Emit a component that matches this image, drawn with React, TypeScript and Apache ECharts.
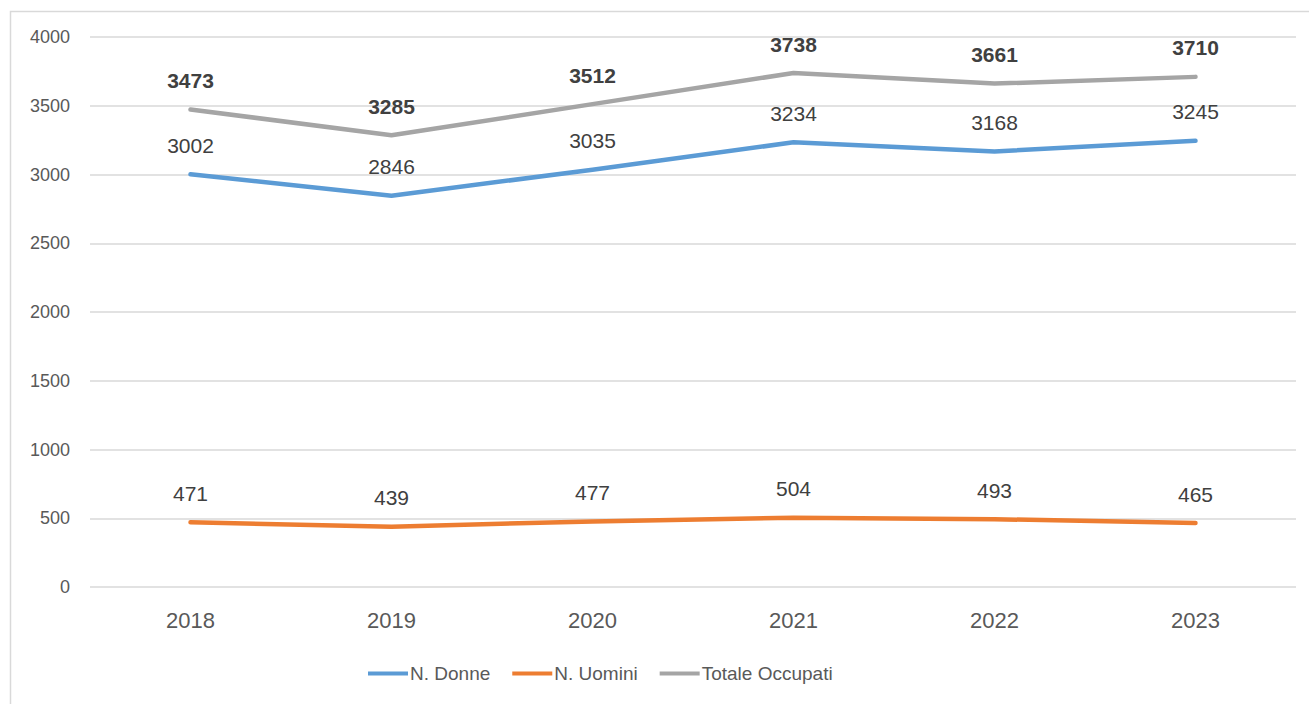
import React, { useEffect, useRef } from "react";
import * as echarts from "echarts";

const categories = ["2018", "2019", "2020", "2021", "2022", "2023"];
const donne = [3002, 2846, 3035, 3234, 3168, 3245];
const uomini = [471, 439, 477, 504, 493, 465];
const totale = [3473, 3285, 3512, 3738, 3661, 3710];
const yTicks = { min: 0, max: 4000, interval: 500 };
const seriesNames = ["N. Donne", "N. Uomini", "Totale Occupati"];
const seriesColors = ["#5B9BD5", "#ED7D31", "#A5A5A5"];

const FONT = "Liberation Sans";

export default function App() {
  const ref = useRef<HTMLDivElement>(null);
  useEffect(() => {
    if (!ref.current) return;
    const chart = echarts.init(ref.current, undefined, { renderer: "svg" });
    const mkSeries = (name: string, data: number[], color: string, bold: boolean) => ({
      name,
      type: "line",
      data,
      showSymbol: true,
      symbol: "circle",
      symbolSize: 1,
      lineStyle: { color, width: 4.5, cap: "round", join: "round" },
      itemStyle: { color, opacity: 0 },
      label: {
        show: true,
        position: "top",
        distance: 18,
        fontFamily: FONT,
        fontSize: 21,
        fontWeight: bold ? "bold" : "normal",
        color: "#404040",
        opacity: 1,
      },
    });
    chart.setOption({
      animation: false,
      textStyle: { fontFamily: FONT },
      graphic: [
        {
          type: "rect",
          shape: { x: 10.5, y: 11.5, width: 1400, height: 800 },
          style: { fill: "none", stroke: "#d9d9d9", lineWidth: 1.5 },
          silent: true,
        },
      ],
      grid: { left: 90, right: 13, top: 37, bottom: 117, containLabel: false },
      legend: {
        left: 363,
        top: 659,
        itemWidth: 40,
        itemHeight: 4,
        itemGap: 22,
        icon: "rect",
        itemStyle: { opacity: 1 },
        textStyle: { fontFamily: FONT, fontSize: 19, color: "#595959", padding: [0, 0, 0, -3] },
        data: seriesNames.map((n, i) => ({
          name: n,
          itemStyle: { color: seriesColors[i], opacity: 1 },
        })),
      },
      xAxis: {
        type: "category",
        data: categories,
        boundaryGap: true,
        axisLine: { show: false },
        axisTick: { show: false },
        axisLabel: { fontFamily: FONT, fontSize: 22, color: "#595959", margin: 22 },
      },
      yAxis: {
        type: "value",
        min: yTicks.min,
        max: yTicks.max,
        interval: yTicks.interval,
        axisLine: { show: false },
        axisTick: { show: false },
        splitLine: { lineStyle: { color: "#d9d9d9", width: 1.5 } },
        axisLabel: {
          fontFamily: FONT,
          fontSize: 18,
          color: "#595959",
          margin: 20,
          formatter: (v: number) => String(v),
        },
      },
      series: [
        mkSeries(seriesNames[0], donne, seriesColors[0], false),
        mkSeries(seriesNames[1], uomini, seriesColors[1], false),
        mkSeries(seriesNames[2], totale, seriesColors[2], true),
      ],
    });
    return () => chart.dispose();
  }, []);
  return (
    <div
      ref={ref}
      style={{ position: "absolute", left: 0, top: 0, width: 1309, height: 704, background: "#fff" }}
    />
  );
}
